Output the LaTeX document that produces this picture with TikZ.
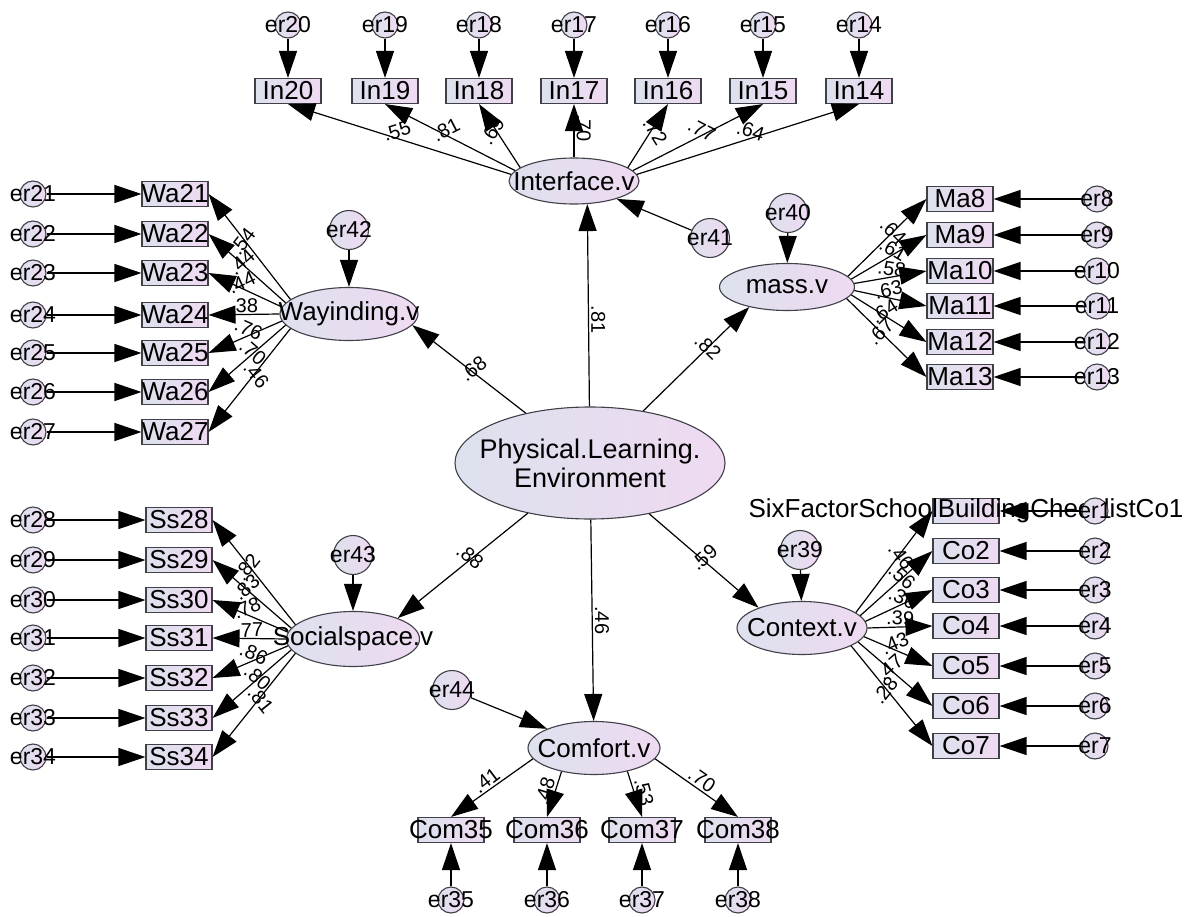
\documentclass[tikz,border=0pt]{standalone}
\usepackage{fontspec}
\setmainfont{Liberation Sans}
\usetikzlibrary{arrows.meta,shapes.geometric}
\definecolor{fillL}{RGB}{221,225,238}
\definecolor{fillR}{RGB}{239,218,241}
\definecolor{lineclr}{RGB}{64,64,72}
\newcommand\latfont{\fontsize{26}{30}\selectfont}
\newcommand\plefont{\fontsize{27}{29}\selectfont}
\newcommand\errfont{\fontsize{23}{26}\selectfont}
\newcommand\coeffont{\fontsize{20}{22}\selectfont}
\begin{document}
\begin{tikzpicture}[x=1pt,y=1pt,yscale=-1,
  latent/.style={ellipse, draw=lineclr, line width=1.1pt, left color=fillL, right color=fillR, inner sep=0pt},
  lat/.style={latent, label={[font=\latfont]center:#1}},
  obs/.style={rectangle, draw=lineclr, line width=1.1pt, left color=fillL, right color=fillR, inner sep=0pt, minimum width=66pt, minimum height=25pt, label={[font=\latfont]center:#1}},
  err/.style={circle, draw=lineclr, line width=1.1pt, left color=fillL, right color=fillR, inner sep=0pt, minimum size=26pt, label={[font=\errfont]center:#1}},
  errbig/.style={err=#1, minimum size=39pt},
  arr/.style={draw=black, line width=1.2pt, -{Triangle[length=27pt,width=18pt]}},
  lab/.style={midway, sloped, above, inner sep=1pt, font=\coeffont},
  labr/.style={inner sep=2pt, anchor=south, font=\coeffont},
  labv/.style={labr, rotate=-90}]
\useasboundingbox (0,0) rectangle (1199,917);

%Shape: Ellipse
\node[latent, minimum width=270pt, minimum height=112pt, label={[align=center, font=\plefont]center:Physical.Learning.\\Environment}] (ple) at (590,463) {};
\node[lat=Interface.v, minimum width=130pt, minimum height=46pt] (int) at (574,181) {};
\node[lat=Wayinding.v, minimum width=138pt, minimum height=53pt] (way) at (349,314) {};
\node[lat=mass.v, minimum width=135pt, minimum height=47pt] (mass) at (787,287) {};
\node[lat=Socialspace.v, minimum width=133pt, minimum height=55pt] (soc) at (353,639) {};
\node[lat=Context.v, minimum width=130pt, minimum height=53pt] (ctx) at (802,628) {};
\node[lat=Comfort.v, minimum width=132pt, minimum height=53pt] (com) at (594,748) {};

%Shape: Rectangle
\node[obs=In20] (in20) at (288,91) {};
\node[obs=In19] (in19) at (385,91) {};
\node[obs=In18] (in18) at (479,91) {};
\node[obs=In17] (in17) at (574,91) {};
\node[obs=In16] (in16) at (668,91) {};
\node[obs=In15] (in15) at (763,91) {};
\node[obs=In14] (in14) at (859,91) {};
\node[obs=Wa21] (wa21) at (175,194) {};
\node[obs=Wa22] (wa22) at (175,234) {};
\node[obs=Wa23] (wa23) at (175,273) {};
\node[obs=Wa24] (wa24) at (175,315) {};
\node[obs=Wa25] (wa25) at (175,353) {};
\node[obs=Wa26] (wa26) at (175,392) {};
\node[obs=Wa27] (wa27) at (175,432) {};
\node[obs=Ss28] (ss28) at (179,520) {};
\node[obs=Ss29] (ss29) at (179,560) {};
\node[obs=Ss30] (ss30) at (179,600) {};
\node[obs=Ss31] (ss31) at (179,638) {};
\node[obs=Ss32] (ss32) at (179,678) {};
\node[obs=Ss33] (ss33) at (179,718) {};
\node[obs=Ss34] (ss34) at (179,757) {};
\node[obs=Ma8] (ma8) at (960,199) {};
\node[obs=Ma9] (ma9) at (960,235) {};
\node[obs=Ma10] (ma10) at (960,271) {};
\node[obs=Ma11] (ma11) at (960,306) {};
\node[obs=Ma12] (ma12) at (960,342) {};
\node[obs=Ma13] (ma13) at (960,377) {};
\node[obs=SixFactorSchoolBuildingChecklistCo1] (co1) at (966,511) {};
\node[obs=Co2] (co2) at (966,551) {};
\node[obs=Co3] (co3) at (966,590) {};
\node[obs=Co4] (co4) at (966,626) {};
\node[obs=Co5] (co5) at (966,666) {};
\node[obs=Co6] (co6) at (966,706) {};
\node[obs=Co7] (co7) at (966,746) {};
\node[obs=Com35] (com35) at (451,830) {};
\node[obs=Com36] (com36) at (547,830) {};
\node[obs=Com37] (com37) at (642,830) {};
\node[obs=Com38] (com38) at (738,830) {};

%Shape: Circle
\node[err=er20] (e20) at (288,25) {};
\node[err=er19] (e19) at (385,25) {};
\node[err=er18] (e18) at (479,25) {};
\node[err=er17] (e17) at (574,25) {};
\node[err=er16] (e16) at (668,25) {};
\node[err=er15] (e15) at (763,25) {};
\node[err=er14] (e14) at (859,25) {};
\node[err=er21] (e21) at (33,194) {};
\node[err=er22] (e22) at (33,234) {};
\node[err=er23] (e23) at (33,273) {};
\node[err=er24] (e24) at (33,315) {};
\node[err=er25] (e25) at (33,353) {};
\node[err=er26] (e26) at (33,392) {};
\node[err=er27] (e27) at (33,432) {};
\node[err=er28] (e28) at (33,520) {};
\node[err=er29] (e29) at (33,560) {};
\node[err=er30] (e30) at (33,600) {};
\node[err=er31] (e31) at (33,638) {};
\node[err=er32] (e32) at (33,678) {};
\node[err=er33] (e33) at (33,718) {};
\node[err=er34] (e34) at (33,757) {};
\node[err=er8] (e8) at (1097,199) {};
\node[err=er9] (e9) at (1097,235) {};
\node[err=er10] (e10) at (1097,271) {};
\node[err=er11] (e11) at (1097,306) {};
\node[err=er12] (e12) at (1097,342) {};
\node[err=er13] (e13) at (1097,377) {};
\node[err=er1] (e1) at (1095,511) {};
\node[err=er2] (e2) at (1095,551) {};
\node[err=er3] (e3) at (1095,590) {};
\node[err=er4] (e4) at (1095,626) {};
\node[err=er5] (e5) at (1095,666) {};
\node[err=er6] (e6) at (1095,706) {};
\node[err=er7] (e7) at (1095,746) {};
\node[err=er35] (e35) at (451,900) {};
\node[err=er36] (e36) at (547,900) {};
\node[err=er37] (e37) at (642,900) {};
\node[err=er38] (e38) at (738,900) {};
\node[errbig=er39] (e39) at (800,550) {};
\node[errbig=er40] (e40) at (788,213) {};
\node[errbig=er41] (e41) at (710,238) {};
\node[errbig=er42] (e42) at (349,230) {};
\node[errbig=er43] (e43) at (353,555) {};
\node[errbig=er44] (e44) at (452,690) {};

%Straight Lines
\draw[arr] (ple) -- (way.-10) node[lab, pos=.4, above=3pt] {.68};
\draw[arr] (ple) -- (int.-60) node[labv, pos=.43] {.81};
\draw[arr] (ple) -- (mass.208) node[lab, above=8pt] {.82};
\draw[arr] (ple) -- (soc.25) node[lab, above=3pt] {.88};
\draw[arr] (ple) -- (com) node[labv, pos=.5] {.46};
\draw[arr] (ple) -- (ctx.155) node[lab, pos=.6, above=8pt] {.59};
\draw[arr] (e41) -- (int);
\draw[arr] (e40) -- (mass);
\draw[arr] (e42) -- (way);
\draw[arr] (e43) -- (soc);
\draw[arr] (e39) -- (ctx);
\draw[arr] (e44) -- (com);

%Straight Lines
\draw[arr] (int.174) -- (in20.south) node[lab] {.55};
\draw[arr] (int.170) -- (in19.south) node[lab] {.81};
\draw[arr] (int.166) -- (in18.south) node[lab] {.69};
\draw[arr] (int.north) -- (in17.south) node[labv, pos=.55] {.70};
\draw[arr] (int.14) -- (in16.south) node[lab] {.72};
\draw[arr] (int.10) -- (in15.south) node[lab] {.77};
\draw[arr] (int.6) -- (in14.south) node[lab] {.64};
\draw[arr] (e20) -- (in20);
\draw[arr] (e19) -- (in19);
\draw[arr] (e18) -- (in18);
\draw[arr] (e17) -- (in17);
\draw[arr] (e16) -- (in16);
\draw[arr] (e15) -- (in15);
\draw[arr] (e14) -- (in14);

%Straight Lines
\draw[arr] (way.166) -- (wa21.east) node[lab] {.54};
\draw[arr] (way.170) -- (wa22.east) node[lab] {.44};
\draw[arr] (way.174) -- (wa23.east) node[lab] {.44};
\draw[arr] (way.180) -- (wa24.east) node[lab] {.38};
\draw[arr] (way.186) -- (wa25.east) node[lab] {.76};
\draw[arr] (way.190) -- (wa26.east) node[lab] {.70};
\draw[arr] (way.194) -- (wa27.east) node[lab] {.46};
\draw[arr] (e21) -- (wa21);
\draw[arr] (e22) -- (wa22);
\draw[arr] (e23) -- (wa23);
\draw[arr] (e24) -- (wa24);
\draw[arr] (e25) -- (wa25);
\draw[arr] (e26) -- (wa26);
\draw[arr] (e27) -- (wa27);

%Straight Lines
\draw[arr] (soc.166) -- (ss28.east) node[lab] {.82};
\draw[arr] (soc.170) -- (ss29.east) node[lab] {.83};
\draw[arr] (soc.174) -- (ss30.east) node[lab] {.78};
\draw[arr] (soc.180) -- (ss31.east) node[lab] {.77};
\draw[arr] (soc.186) -- (ss32.east) node[lab] {.86};
\draw[arr] (soc.190) -- (ss33.east) node[lab] {.80};
\draw[arr] (soc.194) -- (ss34.east) node[lab] {.81};
\draw[arr] (e28) -- (ss28);
\draw[arr] (e29) -- (ss29);
\draw[arr] (e30) -- (ss30);
\draw[arr] (e31) -- (ss31);
\draw[arr] (e32) -- (ss32);
\draw[arr] (e33) -- (ss33);
\draw[arr] (e34) -- (ss34);

%Straight Lines
\draw[arr] (mass.10) -- (ma8.west) node[lab] {.64};
\draw[arr] (mass.7) -- (ma9.west) node[lab] {.61};
\draw[arr] (mass.3) -- (ma10.west) node[lab] {.58};
\draw[arr] (mass.-3) -- (ma11.west) node[lab] {.63};
\draw[arr] (mass.-7) -- (ma12.west) node[lab] {.64};
\draw[arr] (mass.-11) -- (ma13.west) node[lab] {.67};
\draw[arr] (e8) -- (ma8);
\draw[arr] (e9) -- (ma9);
\draw[arr] (e10) -- (ma10);
\draw[arr] (e11) -- (ma11);
\draw[arr] (e12) -- (ma12);
\draw[arr] (e13) -- (ma13);

%Straight Lines
\draw[arr] (ctx.16) -- (co1.west) node[lab] {.46};
\draw[arr] (ctx.12) -- (co2.west) node[lab] {.56};
\draw[arr] (ctx.6) -- (co3.west) node[lab] {.30};
\draw[arr] (ctx.0) -- (co4.west) node[lab] {.39};
\draw[arr] (ctx.-8) -- (co5.west) node[lab] {.43};
\draw[arr] (ctx.-14) -- (co6.west) node[lab] {.47};
\draw[arr] (ctx.-20) -- (co7.west) node[lab] {.28};
\draw[arr] (e1) -- (co1);
\draw[arr] (e2) -- (co2);
\draw[arr] (e3) -- (co3);
\draw[arr] (e4) -- (co4);
\draw[arr] (e5) -- (co5);
\draw[arr] (e6) -- (co6);
\draw[arr] (e7) -- (co7);

%Straight Lines
\draw[arr] (com.190) -- (com35.north) node[labr, midway, rotate=37] {.41};
\draw[arr] (com.216) -- (com36.north) node[labr, midway, rotate=73] {.48};
\draw[arr] (com.325) -- (com37.north) node[labr, midway, rotate=-75] {.53};
\draw[arr] (com.350) -- (com38.north) node[labr, midway, rotate=-35] {.70};
\draw[arr] (e35) -- (com35);
\draw[arr] (e36) -- (com36);
\draw[arr] (e37) -- (com37);
\draw[arr] (e38) -- (com38);

\end{tikzpicture}
\end{document}
